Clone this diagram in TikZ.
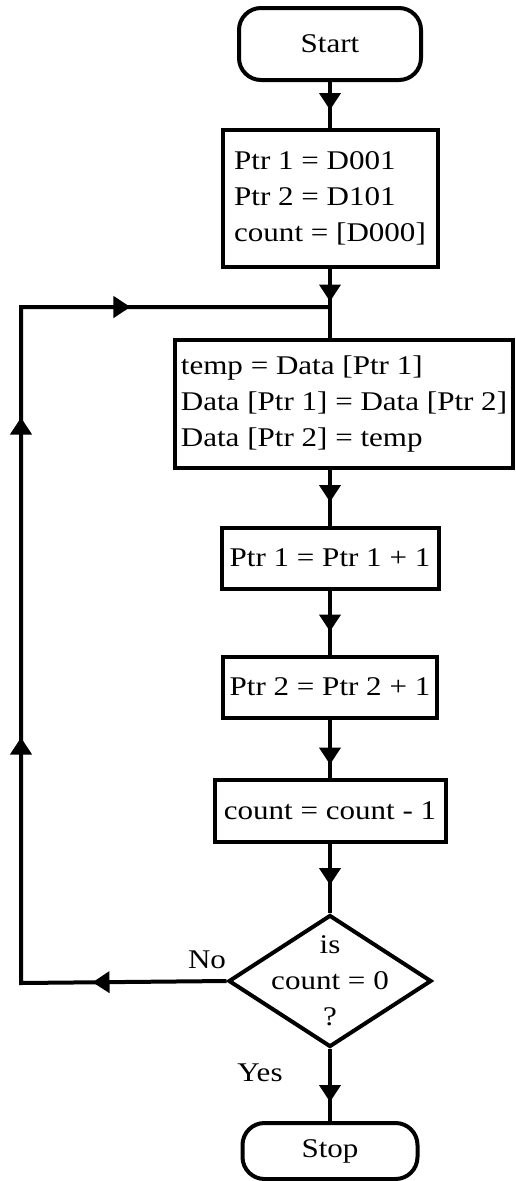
\documentclass[tikz,border=0pt]{standalone}
\usepackage{fontspec}
\setmainfont{Liberation Serif}[FakeStretch=1.15]
\usetikzlibrary{arrows.meta,shapes.geometric,decorations.markings}

\tikzset{ftip/.tip={Triangle[length=17pt,width=21pt]}}

\begin{document}
\begin{tikzpicture}[x=1pt,y=1pt,line width=4pt,
    font=\fontsize{27}{36}\selectfont,
    terminal/.style={draw,rounded corners=22pt,minimum width=182,minimum height=72},
    process/.style={draw,align=left,inner xsep=6pt},
    decision/.style={draw,diamond,minimum width=203,minimum height=132,inner sep=0pt},
    flow/.style={postaction={decorate},
        decoration={markings,mark=at position #1 with {\arrow{ftip}}}}]
    \path[fill=white] (0,0) rectangle (516,-1181);

    \node[terminal] (start) at (330,-44) {Start};
    \node[process,minimum width=215,minimum height=137] (init) at (330,-198)
        {Ptr 1 = D001\\Ptr 2 = D101\\count = [D000]};
    \coordinate (join) at (330,-307);
    \node[process,minimum width=338,minimum height=128] (swap) at (344,-404)
        {temp = Data [Ptr 1]\\Data [Ptr 1] = Data [Ptr 2]\\Data [Ptr 2] = temp};
    \node[process,minimum width=217,minimum height=61] (inc1) at (330,-558) {Ptr 1 = Ptr 1 + 1};
    \node[process,minimum width=214,minimum height=61] (inc2) at (330,-687) {Ptr 2 = Ptr 2 + 1};
    \node[process,minimum width=231,minimum height=62] (dec) at (330,-811) {count = count - 1};
    \node[decision] (check) at (330,-981) {};
    \node[align=center,inner sep=0pt] (checktext) at (check.center) {is\\count = 0\\?};
    \node[terminal,minimum width=175,minimum height=56] (stop) at (330,-1151) {Stop};

    \node (nolabel) at (207,-960) {No};
    \node (yeslabel) at (260,-1073) {Yes};

    % main chain
    \draw[flow=28pt] (start) -- (init);
    \draw[flow=33pt] (init) -- (join);
    \draw (join) -- (join |- swap.north);
    \draw[flow=32pt] (swap.south -| inc1) -- (inc1);
    \draw[flow=41pt] (inc1) -- (inc2);
    \draw[flow=45pt] (inc2) -- (dec);
    \draw[flow=41pt] (dec) -- (check);
    \draw[flow=53pt] (check) -- (stop);

    % loop back on No
    \coordinate (lowleft) at (21,-983);
    \coordinate (upleft) at (21,-307);
    \draw[postaction={decorate},decoration={markings,
        mark=at position 134pt with {\arrow{ftip}},
        mark=at position 451pt with {\arrow{ftip}},
        mark=at position 771pt with {\arrow{ftip}},
        mark=at position 991pt with {\arrow{ftip}}}]
        (check.west) -- (lowleft) -- (upleft) -- (join);
\end{tikzpicture}
\end{document}
